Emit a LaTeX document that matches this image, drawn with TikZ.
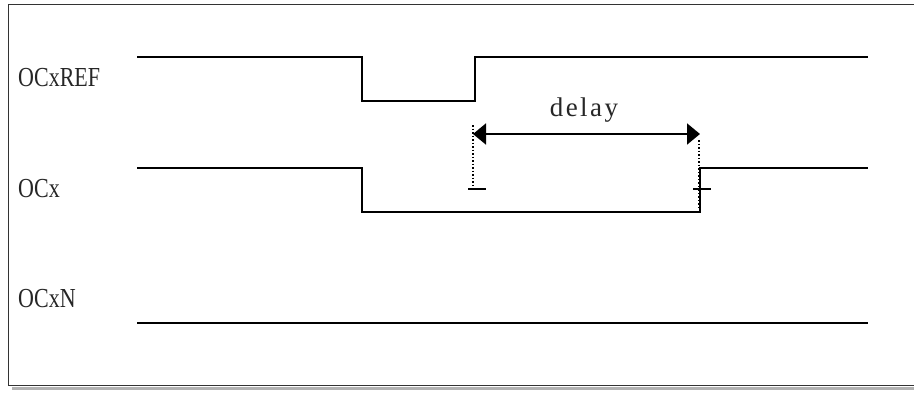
\documentclass[tikz,border=0pt]{standalone}
\usepackage{fontspec}
\setmainfont{Liberation Serif}
\newfontfamily\sigfont[FakeStretch=0.8]{Liberation Serif}
\newfontfamily\dlyfont[LetterSpace=9]{Liberation Serif}
\usetikzlibrary{arrows.meta}
\begin{document}
\begin{tikzpicture}[x=1pt,y=-1pt,
  signal/.style={line width=2pt,line join=miter},
  frameline/.style={line width=1pt,draw=black!80},
  shadowline/.style={line width=3pt,draw=black!30},
  lbl/.style={anchor=base west,inner sep=0pt,text=black!85,font=\sigfont\fontsize{27.5}{27.5}\selectfont},
  dimarrow/.style={line width=2pt,{Triangle[length=13pt,width=21pt]}-{Triangle[length=13pt,width=21pt]}},
  guide/.style={line width=1.5pt,dotted},
  tick/.style={line width=1.5pt}]
\useasboundingbox (0,0) rectangle (914,392);
% frame
\draw[shadowline] (12,388) -- (914,388);
\draw[frameline] (8,4) -- (914,4);
\draw[frameline] (8,4) -- (8,385) -- (914,385);
% labels
\node[lbl] (lref) at (18,86) {OCxREF};
\node[lbl] (lx) at (18,197) {OCx};
\node[lbl] (lxn) at (18,307) {OCxN};
% OCxREF
\coordinate (r0) at (137,57);
\coordinate (r1) at (362,57);
\coordinate (r2) at (362,101);
\coordinate (r3) at (475,101);
\coordinate (r4) at (475,57);
\coordinate (r5) at (868,57);
\draw[signal] (r0) -- (r1) -- (r2) -- (r3) -- (r4) -- (r5);
% OCx
\coordinate (x0) at (137,168);
\coordinate (x1) at (362,168);
\coordinate (x2) at (362,212);
\coordinate (x3) at (700,212);
\coordinate (x4) at (700,168);
\coordinate (x5) at (868,168);
\draw[signal] (x0) -- (x1) -- (x2) -- (x3) -- (x4) -- (x5);
% OCxN
\coordinate (n0) at (137,323);
\coordinate (n1) at (868,323);
\draw[signal] (n0) -- (n1);
% delay
\coordinate (dl) at (473,134);
\coordinate (dr) at (700,134);
\draw[dimarrow] (dl) -- (dr);
\node[lbl,anchor=base,font=\dlyfont\fontsize{27}{27}\selectfont] (dtext) at (584,116) {delay};
\coordinate (gl0) at (473,125);
\coordinate (gl1) at (473,188);
\coordinate (gr0) at (699,140);
\coordinate (gr1) at (699,210);
\draw[guide] (gl0) -- (gl1);
\draw[guide] (gr0) -- (gr1);
\coordinate (tl0) at (468,189);
\coordinate (tl1) at (486,189);
\coordinate (tr0) at (693,189);
\coordinate (tr1) at (711,189);
\draw[tick] (tl0) -- (tl1);
\draw[tick] (tr0) -- (tr1);
\end{tikzpicture}
\end{document}
